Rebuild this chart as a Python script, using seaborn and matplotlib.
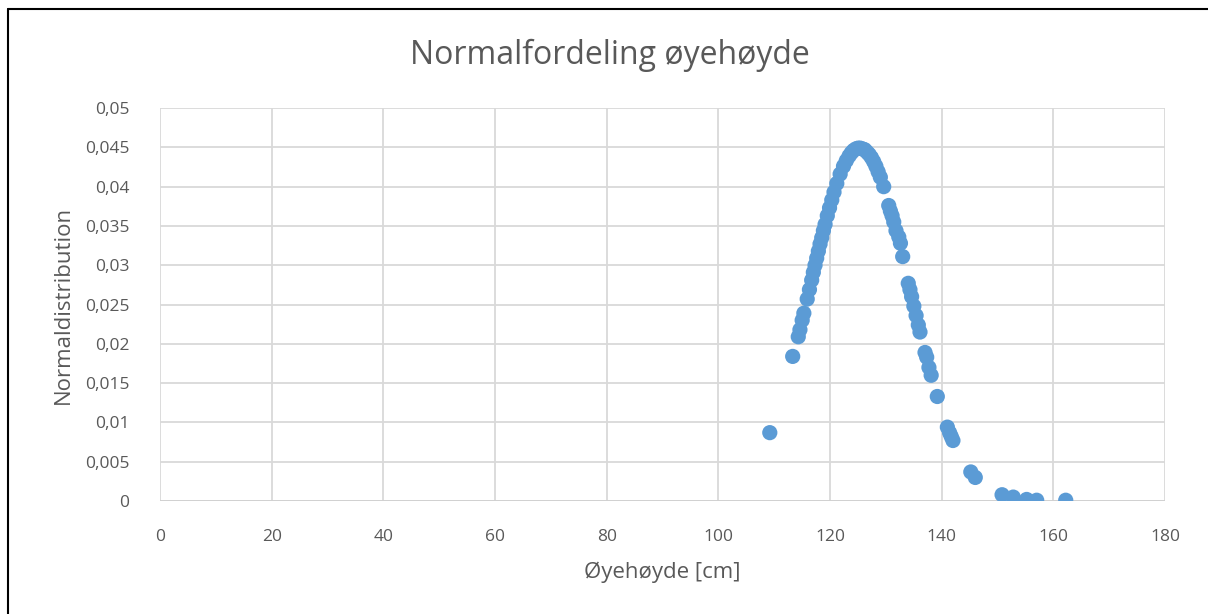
import numpy as np
import pandas as pd
import matplotlib
matplotlib.use("Agg")
import matplotlib.pyplot as plt
from matplotlib.ticker import FuncFormatter, MultipleLocator
from matplotlib.lines import Line2D
import seaborn as sns

# eye height [cm] and normal distribution value
oyehoyde = [109.2, 113.3, 114.3, 114.6, 115.0, 115.3, 115.9, 116.3, 116.7, 117.0,
            117.3, 117.6, 117.9, 118.2, 118.5, 118.8, 119.1, 119.5, 119.9, 120.3,
            120.7, 121.2, 121.8, 122.4, 122.9, 123.4, 123.8, 124.2, 124.6, 125.0,
            125.4, 125.8, 126.2, 126.6, 127.0, 127.4, 127.8, 128.2, 128.6, 129.0,
            129.6, 130.5, 130.8, 131.1, 131.4, 131.8, 132.3, 132.6, 133.0, 134.0,
            134.3, 134.6, 135.0, 135.4, 135.8, 136.1, 137.0, 137.3, 137.7, 138.1,
            139.2, 141.0, 141.4, 141.7, 142.0, 145.2, 146.0, 150.8, 152.8, 155.2,
            157.0, 162.2]
normaldist = [0.0087, 0.0184, 0.0209, 0.0218, 0.0230, 0.0239, 0.0257, 0.0269, 0.0281, 0.0291,
              0.0300, 0.0309, 0.0318, 0.0327, 0.0335, 0.0344, 0.0352, 0.0363, 0.0373, 0.0383,
              0.0393, 0.0404, 0.0416, 0.0426, 0.0433, 0.0439, 0.0443, 0.0446, 0.0448, 0.0449,
              0.0449, 0.0448, 0.0447, 0.0444, 0.0441, 0.0437, 0.0432, 0.0426, 0.0419, 0.0412,
              0.0400, 0.0376, 0.0369, 0.0363, 0.0355, 0.0344, 0.0336, 0.0328, 0.0311, 0.0277,
              0.0269, 0.0260, 0.0248, 0.0236, 0.0224, 0.0215, 0.0189, 0.0183, 0.0170, 0.0160,
              0.0133, 0.0094, 0.0087, 0.0082, 0.0077, 0.0037, 0.0030, 0.0008, 0.0005, 0.0002,
              0.0001, 0.0001]

df = pd.DataFrame({"x": oyehoyde, "y": normaldist})

sns.set_theme(style="white")
plt.rcParams["font.family"] = ["Open Sans", "DejaVu Sans"]
grey = "#595959"

fig = plt.figure(figsize=(12.08, 6.14), dpi=100)
ax = fig.add_axes([0.1325, 0.184, 0.832, 0.640])

sns.scatterplot(data=df, x="x", y="y", ax=ax, color="#5B9BD5", s=120,
                edgecolor="none", zorder=3)

ax.set_xlim(0, 180)
ax.set_ylim(0, 0.05)
ax.xaxis.set_major_locator(MultipleLocator(20))
ax.yaxis.set_major_locator(MultipleLocator(0.005))
ax.yaxis.set_major_formatter(FuncFormatter(
    lambda v, p: "0" if abs(v) < 1e-9 else f"{v:.3f}".rstrip("0").replace(".", ",")))
ax.grid(True, color="#D9D9D9", linewidth=1.3)
for s in ax.spines.values():
    s.set_visible(False)
ax.axhline(0, color="#D0D0D0", linewidth=1.3, zorder=1)
ax.tick_params(axis="both", length=0, labelsize=12.5, labelcolor=grey)
ax.tick_params(axis="x", pad=20)
ax.tick_params(axis="y", pad=22)

ax.set_xlabel("Øyehøyde [cm]", fontsize=16, color=grey, labelpad=12)
ax.set_ylabel("Normaldistribution", fontsize=16, color=grey, labelpad=8)
fig.text(0.505, 0.91, "Normalfordeling øyehøyde", ha="center", va="center",
         fontsize=23, color=grey)

# chart border (left and top edges visible)
fig.add_artist(Line2D([0.0066, 0.0066], [0, 0.985], color="black", lw=1.5,
                      transform=fig.transFigure))
fig.add_artist(Line2D([0.0066, 1.0], [0.985, 0.985], color="black", lw=1.5,
                      transform=fig.transFigure))

fig.savefig("out.png", dpi=100)
